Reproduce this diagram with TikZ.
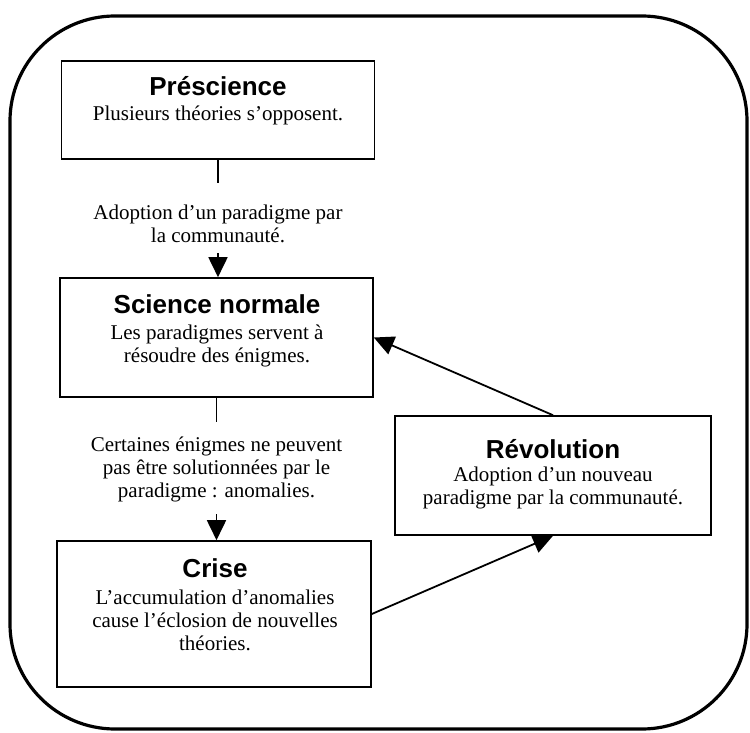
\documentclass[tikz,border=0pt]{standalone}
\usepackage{fontspec}
\setmainfont{Liberation Serif}
\newfontfamily\titlefont{Liberation Sans}
\usetikzlibrary{arrows.meta}
\begin{document}
\begin{tikzpicture}[x=1pt,y=-1pt,
  frame/.style={line width=3.2pt, rounded corners=105pt},
  box/.style={draw, line width=1.6pt, inner sep=0pt},
  ttl/.style={anchor=base, inner sep=0pt, font=\titlefont\bfseries\fontsize{26}{30}\selectfont},
  body/.style={anchor=north, inner sep=0pt, align=center, font=\fontsize{21}{23}\selectfont},
  conn/.style={line width=1.8pt},
  arr/.style={line width=1.8pt, -{Triangle[length=20pt,width=19pt]}}]
\useasboundingbox (0,0) rectangle (750,733);
\draw[frame] (10,16) rectangle (747,729);

% boxes
\node[box, minimum width=313pt, minimum height=98pt] (pre) at (218,110) {};
\node[box, minimum width=313pt, minimum height=119pt] (sn) at (216.5,337.5) {};
\node[box, minimum width=314pt, minimum height=146pt] (crise) at (214,614) {};
\node[box, minimum width=316pt, minimum height=119pt] (rev) at (553,475.5) {};

% texts in boxes
\node[ttl] (pret) at (218,96) {Préscience};
\node[body] (preb) at (218,103) {\rule{0pt}{17pt}Plusieurs théories s’opposent.};
\node[ttl] (snt) at (217,313) {Science normale};
\node[body] (snb) at (217,322) {\rule{0pt}{17pt}Les paradigmes servent à\\résoudre des énigmes.};
\node[ttl] (crt) at (215,577) {Crise};
\node[body] (crb) at (215,587) {\rule{0pt}{17pt}L’accumulation d’anomalies\\cause l’éclosion de nouvelles\\théories.};
\node[ttl] (revt) at (553,458) {Révolution};
\node[body] (revb) at (553,464) {\rule{0pt}{17pt}Adoption d’un nouveau\\paradigme par la communauté.};

% transition labels
\node[body] (lab1) at (218,202) {\rule{0pt}{17pt}Adoption d’un paradigme par\\la communauté.};
\node[body] (lab2) at (216.5,434) {\rule{0pt}{17pt}Certaines énigmes ne peuvent\\pas être solutionnées par le\\paradigme : anomalies.};

% connectors
\coordinate (c1) at (218,183);
\coordinate (c2) at (218,253);
\coordinate (c3) at (216.5,422);
\coordinate (c4) at (216.5,514);
\draw[conn] (pre.south) -- (c1);
\draw[arr] (c2) -- (c2 |- sn.north);
\draw[conn] (sn.south) -- (c3);
\draw[arr] (c4) -- (c4 |- crise.north);
\draw[arr] (rev.north) -- (sn.east);
\draw[arr] (crise.east) -- (rev.south);
\end{tikzpicture}
\end{document}
